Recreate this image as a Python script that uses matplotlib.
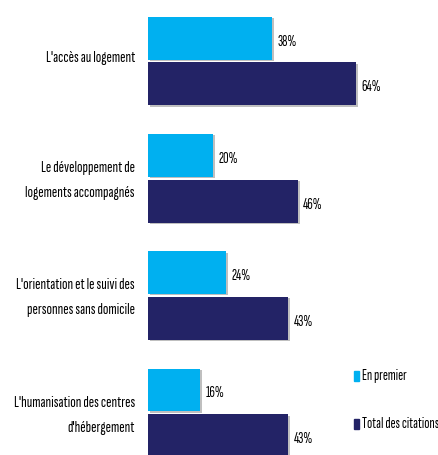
import numpy as np
import matplotlib
matplotlib.use("Agg")
import matplotlib.pyplot as plt
import matplotlib.patheffects as pe
from matplotlib.patches import Rectangle

categories = ["L'accès au logement",
              "Le développement de\nlogements accompagnés",
              "L'orientation et le suivi des\npersonnes sans domicile",
              "L'humanisation des centres\nd'hébergement"]
en_premier = [38, 20, 24, 16]
total_citations = [64, 46, 43, 43]
series_names = ["En premier", "Total des citations"]

c_light = "#00B0F0"
c_dark = "#232366"

plt.rcParams['font.family'] = ["Sofia Sans Extra Condensed", "DejaVu Sans"]

fig = plt.figure(figsize=(4.38, 4.55), dpi=100)
ax = fig.add_axes([148/438, 0, 290/438, 1])

y = np.arange(len(categories))
h = 0.365
off = 0.195
shadow = [pe.SimplePatchShadow(offset=(1.5, -1), shadow_rgbFace="#b0b0b0", alpha=0.8), pe.Normal()]

b1 = ax.barh(y - off, en_premier, height=h, color=c_light, path_effects=shadow)
b2 = ax.barh(y + off, total_citations, height=h, color=c_dark, path_effects=shadow)

for bars, vals in [(b1, en_premier), (b2, total_citations)]:
    for bar, v in zip(bars, vals):
        ax.text(v + 1.8, bar.get_y() + bar.get_height() / 2 + 0.03, f"{v}%",
                va="center", ha="left", fontsize=11, color="black")

ax.set_xlim(0, 290/3.25)
ax.set_ylim(3.36, -0.52)
# labels sit a little above the group centre
ax.set_yticks(y - 0.04)
ax.set_yticklabels(categories, fontsize=11.6, linespacing=2.0)
ax.tick_params(axis="y", length=0, pad=9.5)
ax.set_xticks([])
for s in ax.spines.values():
    s.set_visible(False)

# legend
for i, (name, col) in enumerate(zip(series_names, [c_light, c_dark])):
    yc = 1 - (376 + 48 * i) / 455
    fig.patches.append(Rectangle((354/438, yc - 5/455), 5/438, 10/455, color=col,
                                 transform=fig.transFigure, figure=fig))
    fig.text(362/438, yc, name, fontsize=11, va="center", ha="left")

fig.savefig("out.png", dpi=100)
